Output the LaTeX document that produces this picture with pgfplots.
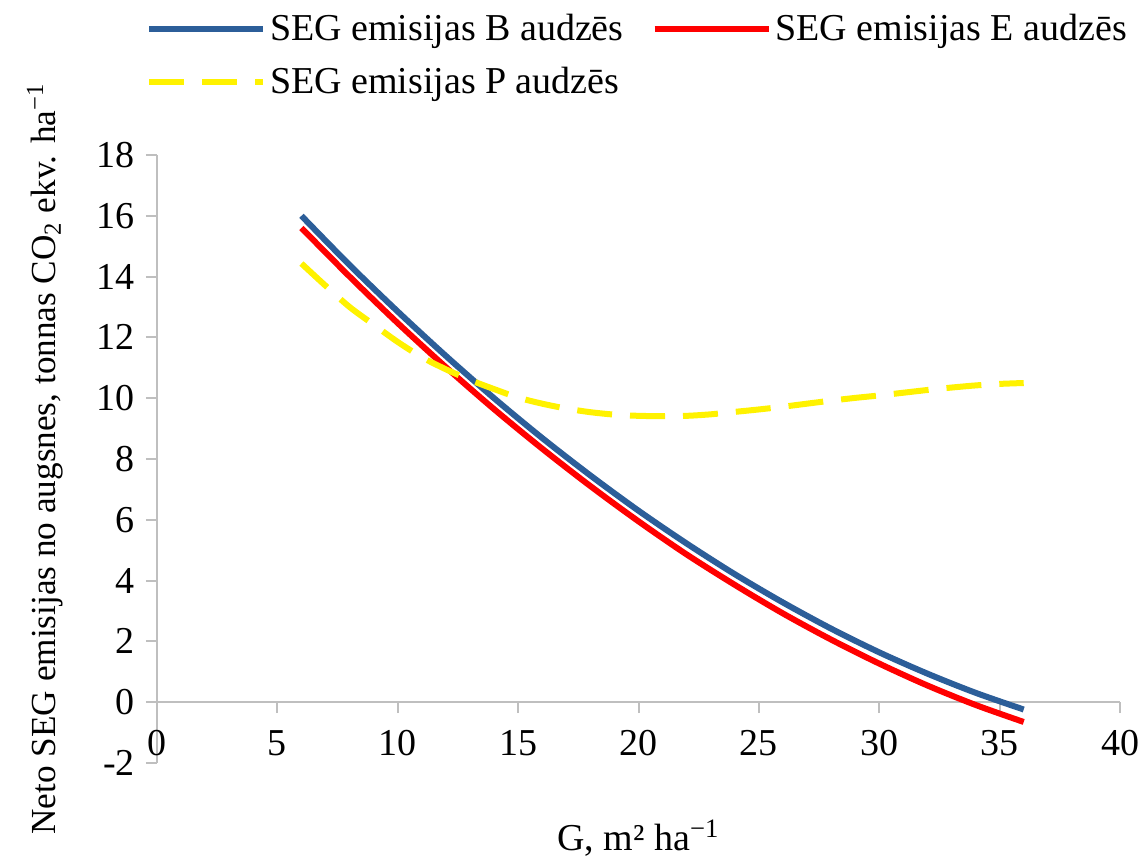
\documentclass[border=0pt]{standalone}
\usepackage{fontspec}
\setmainfont{Liberation Serif}
\usepackage{pgfplots}
\pgfplotsset{compat=1.18}
\definecolor{bblue}{RGB}{44,94,153}
\definecolor{ggray}{RGB}{191,191,191}
\begin{document}
\begin{tikzpicture}
\begin{axis}[name=ax, scale only axis, width=481.5pt, height=304pt,
  xmin=0, xmax=40, ymin=-2, ymax=18,
  axis lines=middle,
  axis line style={-, draw=ggray, line width=1pt},
  xtick={0,5,...,40}, ytick={-2,0,...,18},
  hide obscured x ticks=false, hide obscured y ticks=false,
  tick style={draw=ggray, line width=1pt},
  tick align=outside, major tick length=5.5pt,
  /pgf/number format/assume math mode=true,
  tick label style={font=\fontsize{19}{23}\selectfont},
  xticklabel style={anchor=north, yshift=-5pt},
  yticklabel style={anchor=east, xshift=-2pt},
  xlabel={G, m² ha\textsuperscript{−1}},
  ylabel={Neto SEG emisijas no augsnes, tonnas CO\textsubscript{2} ekv. ha\textsuperscript{−1}},
  every axis x label/.style={at={(rel axis cs:0.5,0)}, anchor=north, yshift=-25pt,
    font=\fontsize{19}{23}\selectfont},
  every axis y label/.style={at={(rel axis cs:0,0.5)}, xshift=-56pt, rotate=90, anchor=center,
    font=\fontsize{17.6}{21}\selectfont},
  legend columns=2,
  legend style={at={(rel axis cs:0.5,1)}, anchor=south, yshift=25pt, draw=none,
    font=\fontsize{19}{23}\selectfont, /tikz/every even column/.append style={column sep=12pt},
    row sep=8pt},
  legend cell align=left,
  legend image code/.code={\draw[#1] (0pt,0pt) -- (57pt,0pt);},
]
\addplot[bblue, line width=3pt, smooth] coordinates {
(6,16.00) (8,14.38) (10,12.85) (12,11.39) (14,10.00) (16,8.69) (18,7.46) (20,6.30)
(22,5.22) (24,4.21) (26,3.28) (28,2.42) (30,1.64) (32,0.94) (34,0.31) (36,-0.24)};
\addlegendentry{SEG emisijas B audzēs}
\addplot[red, line width=3pt, smooth] coordinates {
(6,15.60) (8,14.00) (10,12.47) (12,11.02) (14,9.64) (16,8.34) (18,7.11) (20,5.95)
(22,4.86) (24,3.86) (26,2.92) (28,2.06) (30,1.27) (32,0.55) (34,-0.09) (36,-0.65)};
\addlegendentry{SEG emisijas E audzēs}
\addplot[yellow, line width=3pt, smooth, dash pattern=on 17.5pt off 9pt] coordinates {
(6,14.43) (7,13.70) (8,13.00) (9,12.42) (10,11.85) (11,11.35) (12,10.95) (13,10.60)
(14,10.30) (15,10.02) (16,9.82) (17,9.66) (18,9.54) (19,9.46) (20,9.42) (21,9.41)
(22,9.42) (23,9.47) (24,9.55) (25,9.63) (26,9.72) (27,9.82) (28,9.92) (29,10.01)
(30,10.09) (31,10.18) (32,10.27) (33,10.35) (34,10.42) (35,10.47) (36,10.50)};
\addlegendentry{SEG emisijas P audzēs}
\end{axis}
\pgfresetboundingbox
\path[use as bounding box] ([xshift=-78.5pt, yshift=-46.5pt]ax.south west) rectangle ([xshift=493pt, yshift=381.5pt]ax.south west);
\end{tikzpicture}
\end{document}
